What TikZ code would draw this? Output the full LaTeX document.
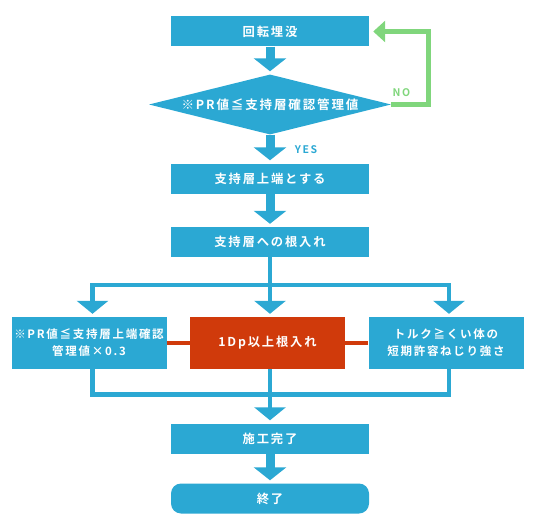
\documentclass[tikz,border=0pt]{standalone}
\usepackage{fontspec}
\setmainfont{Noto Sans CJK JP}[BoldFont={Noto Sans CJK JP Bold},LetterSpace=15]
\usepackage{tikz}
\usetikzlibrary{arrows.meta,shapes.geometric,positioning}
\definecolor{flowblue}{HTML}{2BA8D3}
\definecolor{flowred}{HTML}{D03A0B}
\definecolor{flowgreen}{HTML}{80D67C}

\begin{document}
\begin{tikzpicture}[x=1pt,y=-1pt,
			box/.style={rectangle,fill=flowblue,text=white,inner sep=0pt,minimum width=198pt,minimum height=30pt,font=\bfseries\fontsize{12.3}{17}\selectfont,align=center},
			wbox/.style={box,minimum width=155pt,minimum height=52pt,font=\bfseries\fontsize{11.5}{17}\selectfont},
			cond/.style={diamond,aspect=4,fill=flowblue,text=white,inner sep=0pt,minimum width=242pt,minimum height=60pt,font=\bfseries\fontsize{12.5}{14}\selectfont},
			flow/.style={-{Triangle[width=32pt,length=13pt]},draw=flowblue,line width=9pt,shorten >=3pt},
			branch/.style={draw=flowblue,line width=4.5pt},
			bflow/.style={-{Triangle[width=31pt,length=13pt]},draw=flowblue,line width=4.5pt,shorten >=3pt},
			noflow/.style={-{Triangle[width=21pt,length=12pt]},draw=flowgreen,line width=5pt,shorten >=4pt},
			link/.style={draw=flowred,line width=4.5pt},
			lbl/.style={font=\bfseries\fontsize{10.5}{12}\selectfont,inner sep=0pt}]
			\useasboundingbox (0,0) rectangle (538,532);
			%% main column
			\node[box] (kaiten) at (270,31.5) {回転埋没};
			\node[cond] (hantei) at (270,104.5) {※PR値≦支持層確認管理値};
			\node[box] (jotan) at (270,178.5) {支持層上端とする};
			\node[box] (neire) at (270,242) {支持層への根入れ};
			%% three cases
			\node[wbox] (kanri) at (89,343) {※PR値≦支持層上端確認\\管理値×0.3};
			\node[wbox,fill=flowred,font=\bfseries\fontsize{12.3}{17}\selectfont] (dp) at (267.5,343) {1Dp以上根入れ};
			\node[wbox] (torque) at (446,343) {トルク≧くい体の\\短期許容ねじり強さ};
			\node[box] (sekou) at (270,438.5) {施工完了};
			\node[box,rounded corners=10pt] (owari) at (270,498.5) {終了};
			%% arrows
			\draw[flow] (kaiten) -- (hantei);
			\draw[noflow] (hantei.east) -- ++(37,0) |- (kaiten.east);
			\node[lbl,text=flowgreen] (nolbl) at (401.5,93) {NO};
			\draw[flow] (hantei.south) -- (jotan.north);
			\node[lbl,text=flowblue] (yeslbl) at (306,150) {YES};
			\draw[flow] (jotan) -- (neire);
			%% split
			\coordinate (split) at (270,285);
			\coordinate (splitL) at (92.5,285);
			\coordinate (splitR) at (449,285);
			\draw[branch] (neire.south) -- (split);
			\draw[branch,line cap=rect] (splitL) -- (splitR);
			\draw[bflow] (splitL) -- (splitL |- kanri.north);
			\draw[bflow] (split) -- (split |- dp.north);
			\draw[bflow] (splitR) -- (splitR |- torque.north);
			\draw[link] (kanri.east) -- (dp.west);
			\draw[link] (dp.east) -- (torque.west);
			%% merge
			\coordinate (mergeL) at (92.5,394.5);
			\coordinate (mergeR) at (449,394.5);
			\draw[branch] (splitL |- kanri.south) -- (mergeL) -- (mergeR) -- (splitR |- torque.south);
			\draw[bflow] (split |- dp.south) -- (sekou.north);
			\draw[flow] (sekou) -- (owari);
		\end{tikzpicture}
\end{document}
